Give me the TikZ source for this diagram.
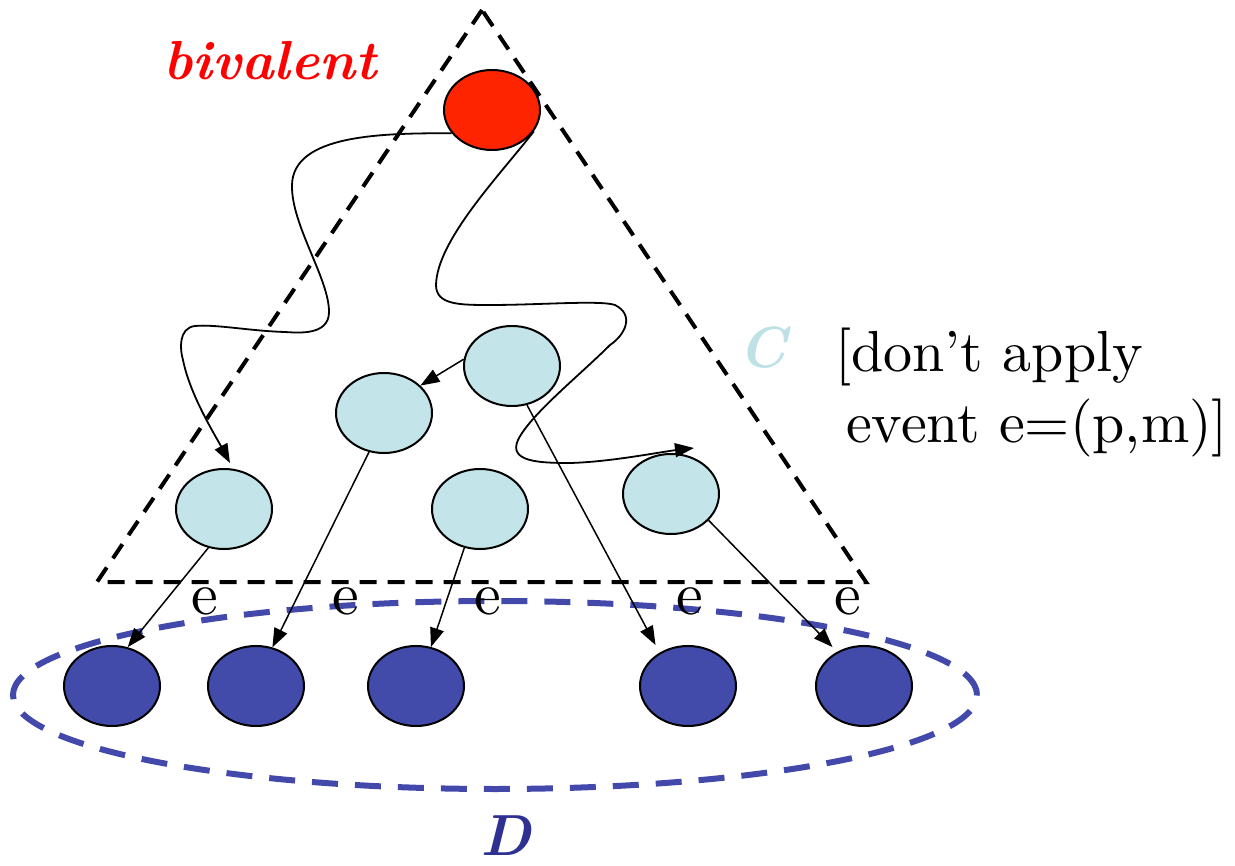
\documentclass[tikz,border=0pt]{standalone}
\usepackage{fontspec}
\IfFontExistsTF{lmroman10-regular.otf}{%
  \setmainfont{lmroman10-regular.otf}[BoldFont=lmroman10-bold.otf,ItalicFont=lmroman10-italic.otf,BoldItalicFont=lmroman10-bolditalic.otf]}{}
\usetikzlibrary{shapes.geometric,arrows.meta}
\definecolor{redfill}{HTML}{FF2400}
\definecolor{cyanfill}{HTML}{C3E4E8}
\definecolor{bluefill}{HTML}{434BAA}
\definecolor{bluedash}{HTML}{4249AB}
\definecolor{ccolor}{HTML}{BEE1E5}
\definecolor{dcolor}{HTML}{2E3192}
\begin{document}
\begin{tikzpicture}[x=1pt,y=-1pt,
  state/.style={ellipse,draw=black,line width=2pt,minimum width=96pt,minimum height=80pt,inner sep=0pt},
  biv/.style={state,fill=redfill},
  cstate/.style={state,fill=cyanfill},
  dstate/.style={state,fill=bluefill},
  arr/.style={line width=1.5pt,-{Triangle[length=19pt,width=14pt]}},
  wave/.style={line width=1.8pt,-{Triangle[length=19pt,width=14pt]}},
  tri/.style={line width=4pt,dash pattern=on 17pt off 11pt},
  dset/.style={ellipse,draw=bluedash,line width=6pt,dash pattern=on 26pt off 17pt,minimum width=964pt,minimum height=188pt,inner sep=0pt},
  lbl/.style={inner sep=0pt,anchor=base west,font=\fontsize{58}{64}\selectfont},
  elbl/.style={inner sep=0pt,anchor=base,font=\fontsize{60}{66}\selectfont},
  big/.style={inner sep=0pt,anchor=base west,font=\fontsize{58}{64}\selectfont\bfseries\itshape}
]
\useasboundingbox (0,0) rectangle (1235,866);

% set D
\node[dset] (Dset) at (495,695) {};

% states
\node[biv] (r) at (492,110) {};
\node[cstate] (c1) at (224,509) {};
\node[cstate] (c2) at (384,413) {};
\node[cstate] (c3) at (512,366) {};
\node[cstate] (c4) at (480,509) {};
\node[cstate] (c5) at (671,494) {};
\node[dstate] (b1) at (112,686) {};
\node[dstate] (b2) at (256,686) {};
\node[dstate] (b3) at (416,686) {};
\node[dstate] (b4) at (688,686) {};
\node[dstate] (b5) at (864,686) {};

% triangle C
\coordinate (A) at (482,10);
\coordinate (B) at (97,582);
\coordinate (Cc) at (866,582);
\draw[tri] (A) -- (B) -- (Cc) -- cycle;

% labels
\node[big,text=red,font=\fontsize{55}{60}\selectfont\bfseries\itshape] (biv) at (163,80) {bivalent};
\node[big,text=ccolor] (Cl) at (738,368) {C};
\node[big,text=dcolor] (Dl) at (480,855) {D};
\node[lbl] (t1) at (835,372) {[don’t apply};
\node[lbl] (t2) at (846,443) {event e=(p,m)]};
\node[elbl] (e1) at (205,614) {e};
\node[elbl] (e2) at (346,614) {e};
\node[elbl] (e3) at (488,614) {e};
\node[elbl] (e4) at (690,614) {e};
\node[elbl] (e5) at (848,614) {e};

% arrows
\draw[arr] (c1.-112) -- (b1.68);
\draw[arr] (c2.-111) -- (b2.67);
\draw[arr] (c4.-112) -- (b3.69);
\draw[arr] (c3.-69) -- ([shift={(-5pt,7pt)}]b4.129);
\draw[arr] (c5.-35) -- ([shift={(-4pt,5pt)}]b5.129);
\draw[arr] (c3.172) -- (c2.37);

% wavy executions
\coordinate (w1) at (230,463);
\draw[wave] (r.210) .. controls (380,133) and (293,135) .. (292,185)
  .. controls (291,225) and (330,280) .. (329,313)
  .. controls (328,335) and (300,333) .. (285,332)
  .. controls (250,331) and (215,324) .. (195,326)
  .. controls (178,328) and (180,350) .. (183,360)
  .. controls (190,395) and (215,435) .. (w1);
\coordinate (w2) at (694,448);
\draw[wave] (r.-27) .. controls (500,175) and (437,240) .. (436,285)
  .. controls (436,305) and (460,305) .. (490,305)
  .. controls (540,305) and (600,300) .. (615,305)
  .. controls (635,315) and (625,335) .. (610,345)
  .. controls (580,375) and (530,415) .. (518,440)
  .. controls (508,462) and (540,463) .. (570,463)
  .. controls (610,462) and (660,452) .. (w2);
\end{tikzpicture}
\end{document}
